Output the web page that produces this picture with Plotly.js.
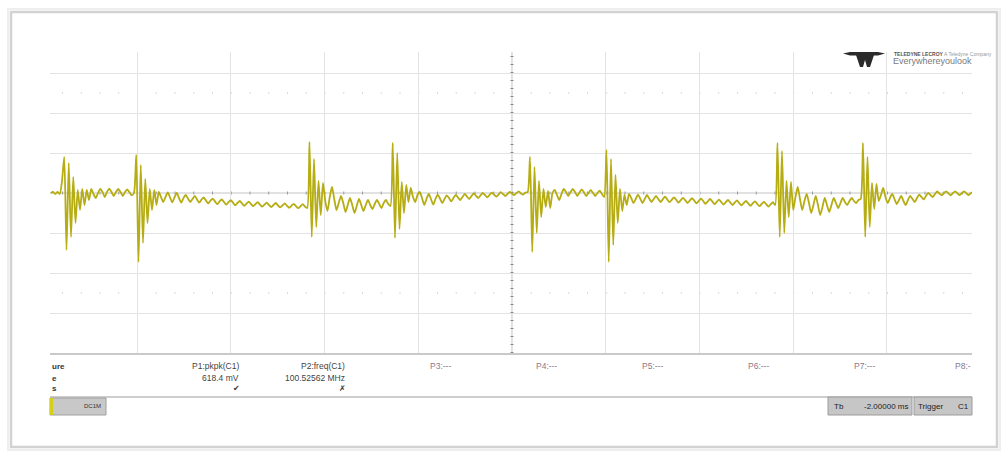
<!DOCTYPE html>
<html>
<head>
<meta charset="utf-8">
<script src="https://cdn.plot.ly/plotly-3.0.1.min.js"></script>
<style>html,body{margin:0;padding:0;background:#fff;}#chart{width:1005px;height:451px;}</style>
</head>
<body>
<div id="chart"></div>
<script>
// ---- Data ----
// Channel C1 waveform, mV, sampled every 2.4 ns starting at -492 ns (200 mV/div, 100 ns/div)
const sampleStartNs = -492;
const sampleStepNs = 2.4;
const c1mV = [
  0, 5, -5, 5, -5, 60, 180, -285, 150, -220,
  80, -150, 15, -85, 20, -60, 15, -35, 20, -5,
  -25, 0, 20, 5, -20, 5, 22, 5, -15, 5,
  20, 5, -15, 5, 18, 3, -12, 0, 190, -345,
  140, -250, 70, -150, 20, -85, 15, -60, 5, -20,
  -45, -20, 3, -22, -47, -22, 0, -25, -48, -25,
  -10, -28, -45, -30, -15, -32, -48, -33, -22, -38,
  -52, -38, -28, -42, -56, -42, -32, -45, -58, -46,
  -36, -48, -62, -50, -40, -52, -64, -53, -43, -55,
  -66, -55, -46, -58, -68, -58, -48, -60, -70, -60,
  -50, -62, -72, -62, -52, -64, -74, -64, -54, -66,
  -76, -66, -56, -68, -75, 255, -220, 170, -170, 60,
  -110, 50, -40, -90, -20, 30, -30, -85, -50, -15,
  -50, -95, -60, -25, -60, -100, -65, -30, -60, -90,
  -60, -35, -60, -80, -55, -35, -55, -75, -50, -35,
  -55, -65, 250, -225, 200, -180, 55, -100, 40, -45,
  25, -20, -45, -10, 5, -25, -60, -30, -5, -30,
  -58, -30, -8, -28, -50, -30, -12, -25, -42, -25,
  -10, -22, -35, -20, -5, -18, -30, -15, -2, -14,
  -25, -12, 0, -10, -22, -10, 2, -8, -18, -8,
  4, -5, -15, -5, 5, -3, -10, 0, 8, -2,
  -8, 2, 5, 180, -295, 130, -200, 60, -120, 20,
  -70, 10, -75, 0, 15, -10, -35, -5, 20, 5,
  -15, 3, 20, 5, -15, 3, 18, 3, -15, 0,
  15, 0, -15, 0, 12, -5, -20, 215, -345, 170,
  -260, 90, -150, 20, -90, -10, -60, -5, -25, -50,
  -30, -8, -28, -50, -30, -10, -28, -45, -30, -15,
  -30, -45, -32, -18, -32, -46, -34, -22, -34, -48,
  -36, -24, -36, -50, -38, -26, -38, -52, -40, -28,
  -40, -54, -42, -30, -42, -56, -44, -33, -45, -58,
  -46, -35, -47, -60, -48, -37, -50, -62, -50, -40,
  -52, -64, -52, -42, -54, -66, -54, -44, -56, -68,
  -56, -46, -60, 250, -220, 210, -200, 60, -120, 55,
  -85, -20, 30, -30, -85, -40, -5, -50, -100, -60,
  -15, -60, -110, -70, -25, -60, -95, -60, -25, -50,
  -75, -50, -25, -45, -60, -40, -25, -40, -50, -35,
  -30, 250, -220, 180, -170, 50, -80, 45, -40, -10,
  25, -20, -50, -25, -5, -30, -55, -35, -15, -40,
  -60, -35, -15, -30, -45, -25, -8, -20, -32, -15,
  0, -10, -20, -5, 8, -3, -12, 0, 8, -2,
  -12, 0, 8, -2, -10, 0, 8, -2, -10, 0,
  5
];

// Graticule (ns / mV)
const timeGridNs = [-400, -300, -200, -100, 100, 200, 300, 400];
const voltGridmV = [600, 400, 200, -200, -400, -600];
const voltDotRowsmV = [500, -500];

// Measurement table text
const measureRowLabels = ['ure', 'e', 's'];
const paramNames = ['P1:pkpk(C1)', 'P2:freq(C1)', 'P3:---', 'P4:---', 'P5:---', 'P6:---', 'P7:---', 'P8:-'];
const paramValues = ['618.4 mV', '100.52562 MHz'];
const paramStatus = ['\u2714', '\u2717'];
const channelTag = 'DC1M';
const timebaseLabel = 'Tb';
const timebaseValue = '-2.00000 ms';
const triggerLabel = 'Trigger';
const triggerSource = 'C1';
const logoLine1 = 'TELEDYNE LECROY';
const logoLine2 = 'Everywhereyoulook';

// ---- Layout helpers (pixel -> paper) ----
const L = 50, R = 972, T = 52, B = 353;
const PX = x => (x - L) / (R - L);
const PY = y => (B - y) / (B - T);
const FONT = 'Liberation Sans, Arial, sans-serif';
const gridCol = '#e3e3e3';

const shapes = [];
const annotations = [];

// Frame with soft shadow
shapes.push({type:'rect', xref:'paper', yref:'paper', x0:PX(8), x1:PX(1000), y0:PY(450), y1:PY(9), line:{color:'#eeeeee', width:2}, layer:'below'});
shapes.push({type:'rect', xref:'paper', yref:'paper', x0:PX(11), x1:PX(997), y0:PY(447), y1:PY(12), line:{color:'#d2d2d2', width:2.5}, layer:'below'});

// Dotted rows
voltDotRowsmV.forEach(v => shapes.push({type:'line', xref:'x', yref:'y', x0:-500, x1:500, y0:v, y1:v, line:{color:'#d0d0d0', width:1.5, dash:'1px,17.75px'}, layer:'below'}));
// Center horizontal line with ticks
shapes.push({type:'line', xref:'x', yref:'y', x0:-500, x1:500, y0:0, y1:0, line:{color:'#c4c4c4', width:1}, layer:'below'});
shapes.push({type:'line', xref:'x', yref:'y', x0:-500, x1:500, y0:0, y1:0, line:{color:'#9a9a9a', width:3, dash:'1px,17.75px'}, layer:'below'});
// Center vertical line with ticks
shapes.push({type:'line', xref:'x', yref:'y', x0:0, x1:0, y0:-800, y1:705, line:{color:'#c4c4c4', width:1}, layer:'below'});
shapes.push({type:'line', xref:'x', yref:'y', x0:0, x1:0, y0:-800, y1:705, line:{color:'#8a8a8a', width:3, dash:'1px,7px'}, layer:'below'});

// Table lines
shapes.push({type:'line', xref:'paper', yref:'paper', x0:PX(50), x1:PX(972), y0:PY(397), y1:PY(397), line:{color:'#bdbdbd', width:1.5}});

// Bottom status boxes
shapes.push({type:'rect', xref:'paper', yref:'paper', x0:PX(50), x1:PX(106), y0:PY(415), y1:PY(398), fillcolor:'#c8c8c8', line:{color:'#a0a0a0', width:1}});
shapes.push({type:'rect', xref:'paper', yref:'paper', x0:PX(50), x1:PX(53), y0:PY(415), y1:PY(398), fillcolor:'#d6cf1a', line:{width:0}});
shapes.push({type:'rect', xref:'paper', yref:'paper', x0:PX(828), x1:PX(912), y0:PY(415), y1:PY(397), fillcolor:'#c6c6c6', line:{color:'#9c9c9c', width:1}});
shapes.push({type:'rect', xref:'paper', yref:'paper', x0:PX(914), x1:PX(972), y0:PY(415), y1:PY(397), fillcolor:'#c6c6c6', line:{color:'#9c9c9c', width:1}});

// Logo mark
const lp = (pts) => 'M ' + pts.map(p => PX(p[0]) + ' ' + PY(p[1])).join(' L ') + ' Z';
shapes.push({type:'path', xref:'paper', yref:'paper', path: lp([[843,53.5],[850,52],[878,52],[885,53.5],[878,55.5],[850,55.5]]), fillcolor:'#2b2b2b', line:{width:0}});
shapes.push({type:'path', xref:'paper', yref:'paper', path: lp([[856,55],[874,55],[870,67],[867,67],[865,60],[863,67],[860,67]]), fillcolor:'#2b2b2b', line:{width:0}});

// Logo text
annotations.push({xref:'paper', yref:'paper', x:PX(892), y:PY(54), xanchor:'left', yanchor:'middle', showarrow:false, text:'<b>'+logoLine1+'</b> <span style="color:#999">A Teledyne Company</span>', font:{family:FONT, size:5, color:'#555'}});
annotations.push({xref:'paper', yref:'paper', x:PX(891), y:PY(61), xanchor:'left', yanchor:'middle', showarrow:false, text:logoLine2, font:{family:FONT, size:9, color:'#7a7a7a'}});

// Measurement table
const rowY = [366, 378, 389];
measureRowLabels.forEach((t, r) => annotations.push({xref:'paper', yref:'paper', x:PX(50), y:PY(rowY[r]), xanchor:'left', yanchor:'middle', showarrow:false, text:'<b>'+t+'</b>', font:{family:FONT, size:8, color:'#333'}}));
paramNames.forEach((t, k) => {
  const right = 241 + 106 * k;
  const last = k === paramNames.length - 1;
  annotations.push({xref:'paper', yref:'paper', x:last ? PX(953) : PX(right), y:PY(rowY[0]), xanchor:last ? 'left' : 'right', yanchor:'middle', showarrow:false, text:t, font:{family:FONT, size:8.5, color:k < 2 ? '#444' : '#8c7888'}});
});
paramValues.forEach((t, k) => annotations.push({xref:'paper', yref:'paper', x:PX(241 + 106 * k), y:PY(rowY[1]), xanchor:'right', yanchor:'middle', showarrow:false, text:t, font:{family:FONT, size:8.5, color:'#444'}}));
paramStatus.forEach((t, k) => annotations.push({xref:'paper', yref:'paper', x:PX(236 + 106 * k), y:PY(rowY[2]), xanchor:'center', yanchor:'middle', showarrow:false, text:t, font:{family:'DejaVu Sans, sans-serif', size:8, color:'#333'}}));

// Box texts
annotations.push({xref:'paper', yref:'paper', x:PX(103), y:PY(406), xanchor:'right', yanchor:'middle', showarrow:false, text:channelTag, font:{family:FONT, size:6, color:'#333'}});
annotations.push({xref:'paper', yref:'paper', x:PX(832), y:PY(406), xanchor:'left', yanchor:'middle', showarrow:false, text:timebaseLabel, font:{family:FONT, size:8, color:'#222'}});
annotations.push({xref:'paper', yref:'paper', x:PX(910), y:PY(406), xanchor:'right', yanchor:'middle', showarrow:false, text:timebaseValue, font:{family:FONT, size:8, color:'#222'}});
annotations.push({xref:'paper', yref:'paper', x:PX(916), y:PY(406), xanchor:'left', yanchor:'middle', showarrow:false, text:triggerLabel, font:{family:FONT, size:8, color:'#222'}});
annotations.push({xref:'paper', yref:'paper', x:PX(971), y:PY(406), xanchor:'right', yanchor:'middle', showarrow:false, text:triggerSource, font:{family:FONT, size:8, color:'#222'}});

const trace = {
  type:'scatter', mode:'lines',
  x0: sampleStartNs, dx: sampleStepNs, y: c1mV,
  line:{color:'#b5ad12', width:1.8, shape:'spline', smoothing:0.6},
  hoverinfo:'skip', showlegend:false
};

const layout = {
  width:1005, height:451,
  margin:{l:L, r:1005 - R, t:T, b:451 - B, pad:0},
  paper_bgcolor:'#ffffff', plot_bgcolor:'#ffffff',
  showlegend:false,
  xaxis:{range:[-492.8, 490.7], tickmode:'array', tickvals:timeGridNs, showticklabels:false, ticks:'', showgrid:true, gridcolor:gridCol, gridwidth:1, zeroline:false, showline:true, linecolor:'#c9c9c9', linewidth:1.5, mirror:false, fixedrange:true},
  yaxis:{range:[-800, 705], tickmode:'array', tickvals:voltGridmV, showticklabels:false, ticks:'', showgrid:true, gridcolor:gridCol, gridwidth:1, zeroline:false, showline:false, fixedrange:true},
  shapes: shapes,
  annotations: annotations
};

Plotly.newPlot('chart', [trace], layout, {staticPlot:true, displayModeBar:false});
</script>
</body>
</html>
